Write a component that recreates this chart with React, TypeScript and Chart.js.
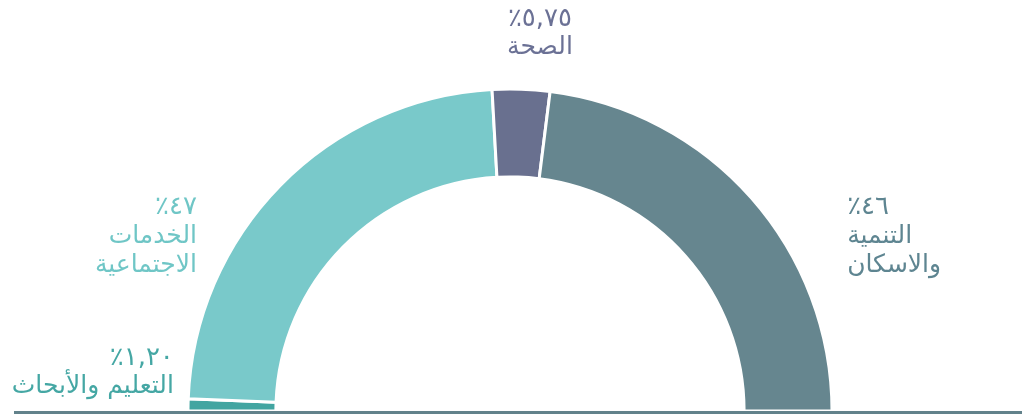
import React, { useEffect, useRef } from "react";
import { Chart, registerables } from "chart.js";

Chart.register(...registerables);

const categories = ["التعليم والأبحاث", "الخدمات الاجتماعية", "الصحة", "التنمية والاسكان"];
const values = [1.2, 47, 5.75, 46];
const valueLabels = ["١,٢٠٪", "٤٧٪", "٥,٧٥٪", "٤٦٪"];
const nameLines = [["التعليم والأبحاث"], ["الخدمات", "الاجتماعية"], ["الصحة"], ["التنمية", "والاسكان"]];
const sliceColors = ["#42a5a1", "#79c9ca", "#69708f", "#66868f"];
const textColors = ["#45a7a4", "#6fc6c6", "#6b7195", "#5e8591"];

// label anchors relative to the doughnut centre, in units of outer radius
const labelAnchors = [
  { dx: -1.044, dy: -0.165, align: "right" },
  { dx: -0.972, dy: -0.632, align: "right" },
  { dx: 0.093, dy: -1.218, align: "center" },
  { dx: 1.047, dy: -0.632, align: "left" },
];

const FONT = "'DejaVu Sans', sans-serif";

const labelPlugin = {
  id: "halfLabels",
  afterDraw(chart: any) {
    const meta = chart.getDatasetMeta(0);
    const arc = meta.data[0];
    if (!arc) return;
    const cx = arc.x;
    const cy = arc.y;
    const R = arc.outerRadius;
    const ctx = chart.ctx;
    ctx.save();
    // base line
    ctx.fillStyle = "#62828b";
    ctx.fillRect(14, cy, chart.width - 14, 3);
    ctx.direction = "rtl";
    ctx.textBaseline = "middle";
    const lineH = 29;
    categories.forEach((_, i) => {
      const a = labelAnchors[i];
      const x = cx + a.dx * R;
      let y = cy + a.dy * R;
      ctx.textAlign = a.align;
      ctx.fillStyle = textColors[i];
      ctx.font = `26px ${FONT}`;
      ctx.fillText(valueLabels[i], x, y);
      nameLines[i].forEach((ln) => {
        y += lineH;
        ctx.font = `25px ${FONT}`;
        ctx.fillText(ln, x, y);
      });
    });
    ctx.restore();
  },
};

export default function App() {
  const ref = useRef<HTMLCanvasElement>(null);
  useEffect(() => {
    if (!ref.current) return;
    const chart = new Chart(ref.current, {
      type: "doughnut",
      data: {
        labels: categories,
        datasets: [
          {
            data: values,
            backgroundColor: sliceColors,
            borderColor: "#ffffff",
            borderWidth: 3,
          },
        ],
      },
      options: {
        responsive: false,
        animation: false,
        rotation: -90,
        circumference: 180,
        cutout: "72.7%",
        layout: { padding: { left: 185, right: 187, top: 87.5, bottom: 1.5 } },
        plugins: { legend: { display: false }, tooltip: { enabled: false } },
      },
      plugins: [labelPlugin],
    } as any);
    return () => chart.destroy();
  }, []);
  return (
    <div style={{ position: "absolute", left: 0, top: 0, width: 1022, height: 414, background: "#fff" }}>
      <canvas ref={ref} width={1022} height={414} />
    </div>
  );
}
